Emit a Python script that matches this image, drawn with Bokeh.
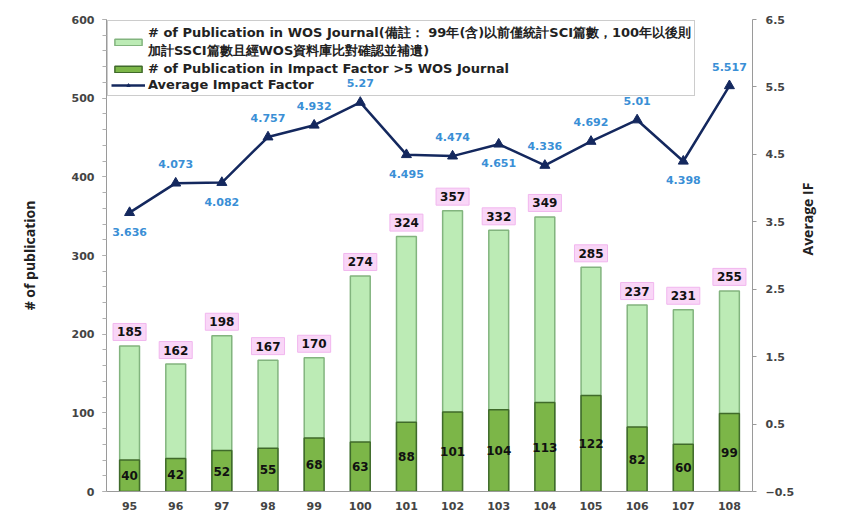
import math
from bokeh.plotting import figure
from bokeh.models import (ColumnDataSource, FactorRange, Range1d, LinearAxis,
                          FixedTicker, Legend, LegendItem)
from bokeh.core.properties import value
from bokeh.embed import file_html
from bokeh.resources import INLINE

years = ["95", "96", "97", "98", "99", "100", "101", "102", "103", "104",
         "105", "106", "107", "108"]
total_pubs = [185, 162, 198, 167, 170, 274, 324, 357, 332, 349, 285, 237, 231, 255]
high_if_pubs = [40, 42, 52, 55, 68, 63, 88, 101, 104, 113, 122, 82, 60, 99]
avg_if = [3.636, 4.073, 4.082, 4.757, 4.932, 5.27, 4.495, 4.474, 4.651,
          4.336, 4.692, 5.01, 4.398, 5.517]
if_label_side = ["below", "above", "below", "above", "above", "above", "below",
                 "above", "below", "above", "above", "above", "below", "above"]

legend_wos = ("# of Publication in WOS Journal(備註： 99年(含)以前僅統計SCI篇數，100年以後則\n"
              "加計SSCI篇數且經WOS資料庫比對確認並補遺)")
legend_high = "# of Publication in Impact Factor >5 WOS Journal"
legend_if = "Average Impact Factor"

src = ColumnDataSource(dict(
    year=years,
    total=total_pubs,
    high=high_if_pubs,
    high_mid=[v / 2 for v in high_if_pubs],
    total_txt=[str(v) for v in total_pubs],
    high_txt=[str(v) for v in high_if_pubs],
    avg=avg_if,
    avg_txt=[str(v) for v in avg_if],
    avg_off=[19 if s == "below" else -19 for s in if_label_side],
))

p = figure(x_range=FactorRange(*years), y_range=Range1d(0, 600),
           width=829, height=512, output_backend="svg", toolbar_location=None,
           min_border_left=106, min_border_right=67, min_border_top=19,
           min_border_bottom=16)
p.extra_y_ranges = {"if": Range1d(-0.5, 6.5)}

p.xgrid.grid_line_color = None
p.ygrid.grid_line_color = None
p.outline_line_color = None
p.background_fill_color = "white"

tick_font = "DejaVu Sans"
# left axis
ya = p.yaxis[0]
ya.ticker = FixedTicker(ticks=[0, 100, 200, 300, 400, 500, 600],
                        minor_ticks=list(range(0, 601, 20)))
ya.axis_label = "# of publication"
ya.axis_label_text_font = "Open Sans"
ya.axis_label_text_font_style = "bold"
ya.axis_label_text_font_size = "14px"
ya.axis_label_text_color = "#222222"
ya.axis_label_standoff = 30
ya.major_label_text_font = tick_font
ya.major_label_text_font_style = "bold"
ya.major_label_text_font_size = "11px"
ya.major_label_text_color = "#444444"
ya.major_label_standoff = 8
ya.axis_line_color = "#9a9a9a"
ya.major_tick_line_color = "#9a9a9a"
ya.minor_tick_line_color = "#b0b0b0"
ya.major_tick_out = 4
ya.major_tick_in = 0
ya.minor_tick_out = 4
ya.minor_tick_in = 0

# right axis
ra = LinearAxis(y_range_name="if",
                ticker=FixedTicker(ticks=[-0.5, 0.5, 1.5, 2.5, 3.5, 4.5, 5.5, 6.5]),
                axis_label="Average IF")
ra.axis_label_text_font = "Open Sans"
ra.axis_label_text_font_style = "bold"
ra.axis_label_text_font_size = "14px"
ra.axis_label_text_color = "#222222"
ra.axis_label_standoff = 10
ra.axis_label_orientation = math.pi / 2
ra.major_label_text_font = tick_font
ra.major_label_text_font_style = "bold"
ra.major_label_text_font_size = "11px"
ra.major_label_text_color = "#444444"
ra.major_label_standoff = 9
ra.axis_line_color = "#9a9a9a"
ra.major_tick_line_color = "#9a9a9a"
ra.minor_tick_line_color = None
ra.major_tick_out = 4
ra.major_tick_in = 0
p.add_layout(ra, "right")

# x axis
xa = p.xaxis[0]
xa.major_label_text_font = tick_font
xa.major_label_text_font_style = "bold"
xa.major_label_text_font_size = "11px"
xa.major_label_text_color = "#444444"
xa.axis_line_color = "#9a9a9a"
xa.major_tick_line_color = None
xa.major_label_standoff = 4

# bars
r_total = p.vbar(x="year", top="total", width=0.43, source=src,
                 fill_color="#bcebb5", line_color="#82b47e", line_width=1.5)
r_high = p.vbar(x="year", top="high", width=0.43, source=src,
                fill_color="#7cb648", line_color="#3f6a2a", line_width=1.5)

# bar labels
p.text(x="year", y="total", text="total_txt", source=src,
       text_font=value(tick_font), text_font_style="bold", text_font_size="12px",
       text_color="#111111", text_align="center", text_baseline="middle",
       y_offset=-14, background_fill_color="#f9d6f7",
       border_line_color="#f1b6ee", padding=4)
p.text(x="year", y="high_mid", text="high_txt", source=src,
       text_font=value(tick_font), text_font_style="bold", text_font_size="12px",
       text_color="#111111", text_align="center", text_baseline="middle")

# impact factor line
r_line = p.line(x="year", y="avg", source=src, y_range_name="if",
                line_color="#14285e", line_width=2.5)
r_mark = p.scatter(x="year", y="avg", source=src, y_range_name="if",
                   marker="triangle", size=10, fill_color="#14285e",
                   line_color="#14285e")
p.text(x="year", y="avg", text="avg_txt", source=src, y_range_name="if",
       y_offset="avg_off",
       text_font=value(tick_font), text_font_style="bold", text_font_size="11px",
       text_color="#3a8fd6", text_align="center", text_baseline="middle")

legend = Legend(items=[
    LegendItem(label=legend_wos, renderers=[r_total]),
    LegendItem(label=legend_high, renderers=[r_high]),
    LegendItem(label=legend_if, renderers=[r_line, r_mark]),
], location="top_left")
legend.label_text_font = "DejaVu Sans"
legend.label_text_font_style = "bold"
legend.label_text_font_size = "13px"
legend.label_text_color = "#222222"
legend.border_line_color = "#9a9a9a"
legend.background_fill_alpha = 0.0
legend.glyph_width = 34
legend.glyph_height = 8
legend.spacing = 1
legend.padding = 3
legend.margin = 1
legend.label_standoff = 3
legend.label_height = 13
p.add_layout(legend)

open("out.html", "w").write(file_html(p, INLINE))
